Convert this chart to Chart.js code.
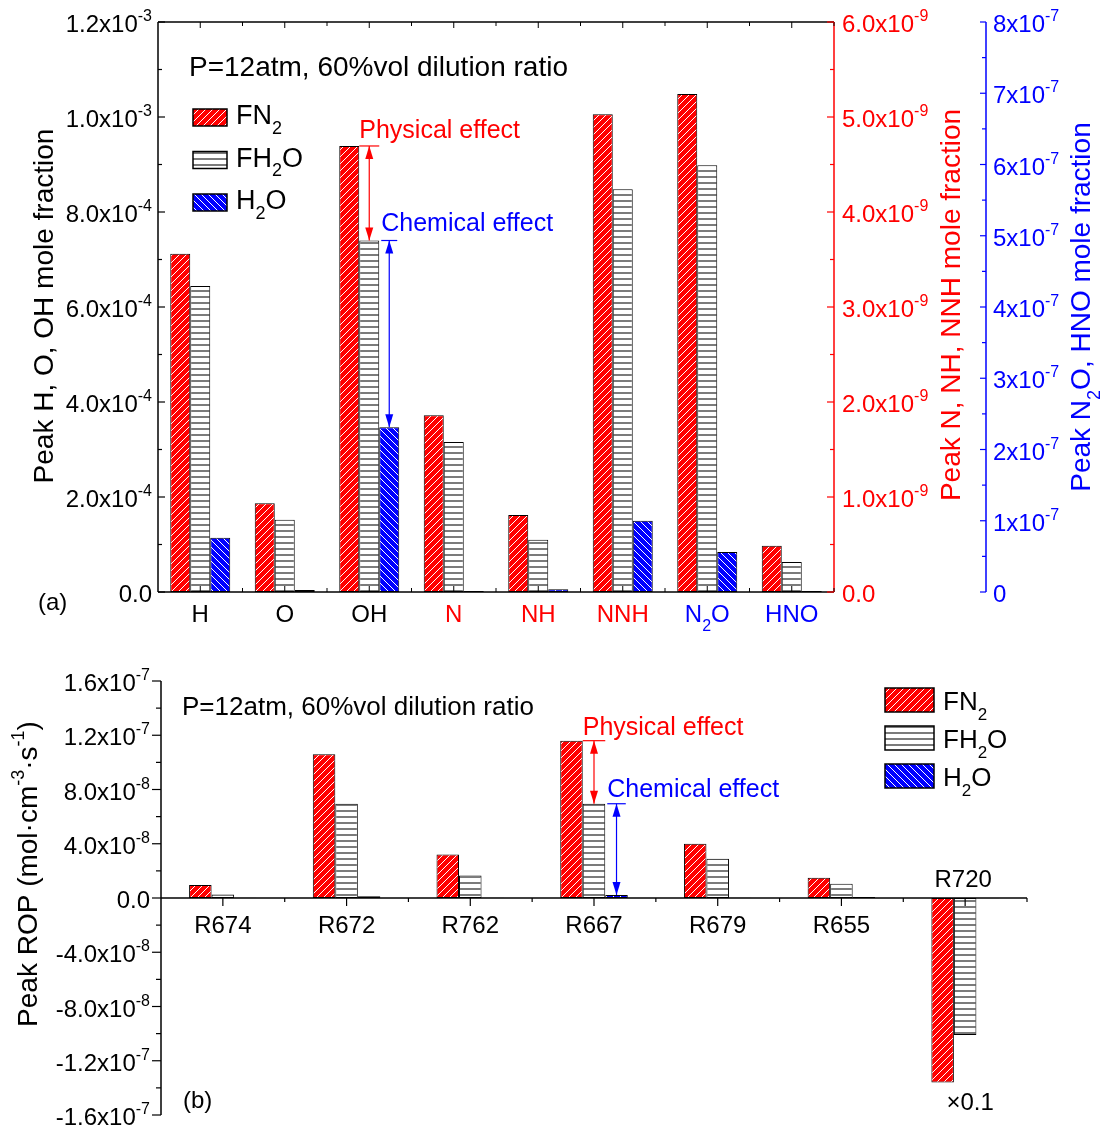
<!DOCTYPE html>
<html>
<head>
<meta charset="utf-8">
<script src="https://cdn.jsdelivr.net/npm/chart.js@4.4.0/dist/chart.umd.min.js"></script>
<style>
  body { margin: 0; background: #fff; }
  canvas { position: absolute; left: 0; }
  #topChart { top: 0; }
  #bottomChart { top: 640px; }
</style>
</head>
<body>
<canvas id="topChart" width="1104" height="640"></canvas>
<canvas id="bottomChart" width="1104" height="493"></canvas>
<script>
const FONT = '"Liberation Sans", Arial, sans-serif';
const RED = '#ff0000';
const BLUE = '#0000ff';

// panel (a): peak mole fractions
const species = ['H', 'O', 'OH', 'N', 'NH', 'NNH', 'N_{2}O', 'HNO'];
const speciesAxis = ['left', 'left', 'left', 'red', 'red', 'red', 'blue', 'blue'];
const seriesNames = ['FN_{2}', 'FH_{2}O', 'H_{2}O'];
const fn2A  = [7.12e-4, 1.87e-4, 9.39e-4, 1.86e-9, 0.81e-9, 5.03e-9, 6.99e-7, 0.65e-7];
const fh2oA = [6.44e-4, 1.52e-4, 7.40e-4, 1.58e-9, 0.55e-9, 4.24e-9, 5.99e-7, 0.42e-7];
const h2oA  = [1.14e-4, 0.04e-4, 3.47e-4, 0.01e-9, 0.03e-9, 0.75e-9, 0.56e-7, 0.015e-7];

const leftTicks = [0, 2e-4, 4e-4, 6e-4, 8e-4, 1.0e-3, 1.2e-3];
const leftTickLabels = ['0.0', '2.0x10^{-4}', '4.0x10^{-4}', '6.0x10^{-4}', '8.0x10^{-4}', '1.0x10^{-3}', '1.2x10^{-3}'];
const redTicks = [0, 1e-9, 2e-9, 3e-9, 4e-9, 5e-9, 6e-9];
const redTickLabels = ['0.0', '1.0x10^{-9}', '2.0x10^{-9}', '3.0x10^{-9}', '4.0x10^{-9}', '5.0x10^{-9}', '6.0x10^{-9}'];
const blueTicks = [0, 1e-7, 2e-7, 3e-7, 4e-7, 5e-7, 6e-7, 7e-7, 8e-7];
const blueTickLabels = ['0', '1x10^{-7}', '2x10^{-7}', '3x10^{-7}', '4x10^{-7}', '5x10^{-7}', '6x10^{-7}', '7x10^{-7}', '8x10^{-7}'];

// panel (b): peak ROP (R720 plotted x0.1)
const reactions = ['R674', 'R672', 'R762', 'R667', 'R679', 'R655', 'R720'];
const fn2B  = [0.95e-8, 10.6e-8, 3.2e-8, 11.6e-8, 4.0e-8, 1.5e-8, -13.6e-8];
const fh2oB = [0.25e-8, 6.95e-8, 1.65e-8, 6.95e-8, 2.9e-8, 1.05e-8, -10.1e-8];
const h2oB  = [0.02e-8, 0.12e-8, 0.02e-8, 0.22e-8, 0.02e-8, 0.08e-8, -0.02e-8];
const ropTicks = [1.6e-7, 1.2e-7, 8e-8, 4e-8, 0, -4e-8, -8e-8, -1.2e-7, -1.6e-7];
const ropTickLabels = ['1.6x10^{-7}', '1.2x10^{-7}', '8.0x10^{-8}', '4.0x10^{-8}', '0.0', '-4.0x10^{-8}', '-8.0x10^{-8}', '-1.2x10^{-7}', '-1.6x10^{-7}'];

// hatch patterns
function hatch(bg, fg, kind) {
  const c = document.createElement('canvas');
  const n = kind === '-' ? 6 : 7;
  c.width = n; c.height = n;
  const g = c.getContext('2d');
  g.fillStyle = bg;
  g.fillRect(0, 0, n, n);
  g.strokeStyle = fg;
  g.lineWidth = kind === '-' ? 1.3 : 1;
  g.beginPath();
  if (kind === '/') {
    g.moveTo(-1, n + 1); g.lineTo(n + 1, -1);
    g.moveTo(-1, 1); g.lineTo(1, -1);
    g.moveTo(n - 1, n + 1); g.lineTo(n + 1, n - 1);
  } else if (kind === '\\') {
    g.moveTo(-1, -1); g.lineTo(n + 1, n + 1);
    g.moveTo(n - 1, -1); g.lineTo(n + 1, 1);
    g.moveTo(-1, n - 1); g.lineTo(1, n + 1);
  } else {
    g.moveTo(0, 3); g.lineTo(n, 3);
  }
  g.stroke();
  return g.createPattern(c, 'repeat');
}
const patCtx = document.getElementById('topChart').getContext('2d');
const patterns = [hatch(RED, '#ffffff', '/'), hatch('#ffffff', '#333333', '-'), hatch(BLUE, '#ffffff', '\\')];

// text with _{sub} and ^{sup}
function parts(str) {
  const out = [];
  const re = /([_^])\{([^}]*)\}/g;
  let last = 0, m;
  while ((m = re.exec(str))) {
    if (m.index > last) out.push({ t: str.slice(last, m.index), k: 'n' });
    out.push({ t: m[2], k: m[1] === '^' ? 'sup' : 'sub' });
    last = re.lastIndex;
  }
  if (last < str.length) out.push({ t: str.slice(last), k: 'n' });
  return out;
}
function drawRich(ctx, str, x, y, size, color, align) {
  const ps = parts(str);
  const small = Math.round(size * 0.65);
  ctx.save();
  ctx.fillStyle = color;
  ctx.textBaseline = 'alphabetic';
  ctx.textAlign = 'left';
  let w = 0;
  ps.forEach(p => {
    ctx.font = (p.k === 'n' ? size : small) + 'px ' + FONT;
    p.w = ctx.measureText(p.t).width;
    w += p.w;
  });
  let cx = align === 'right' ? x - w : align === 'center' ? x - w / 2 : x;
  ps.forEach(p => {
    ctx.font = (p.k === 'n' ? size : small) + 'px ' + FONT;
    const dy = p.k === 'sup' ? -size * 0.45 : p.k === 'sub' ? size * 0.37 : 0;
    ctx.fillText(p.t, cx, y + dy);
    cx += p.w;
  });
  ctx.restore();
}
function drawRotated(ctx, str, x, y, size, color) {
  ctx.save();
  ctx.translate(x, y);
  ctx.rotate(-Math.PI / 2);
  drawRich(ctx, str, 0, 0, size, color, 'center');
  ctx.restore();
}
function line(ctx, x1, y1, x2, y2, color, w) {
  ctx.save();
  ctx.strokeStyle = color;
  ctx.lineWidth = w || 1.5;
  ctx.beginPath();
  ctx.moveTo(x1, y1);
  ctx.lineTo(x2, y2);
  ctx.stroke();
  ctx.restore();
}
function arrowHead(ctx, x, y, dir, color) {
  ctx.save();
  ctx.fillStyle = color;
  ctx.beginPath();
  ctx.moveTo(x, y);
  ctx.lineTo(x - 4, y + dir * 13);
  ctx.lineTo(x + 4, y + dir * 13);
  ctx.closePath();
  ctx.fill();
  ctx.restore();
}
function doubleArrow(ctx, x, y1, y2, color) {
  line(ctx, x, y1, x, y2, color, 1.2);
  arrowHead(ctx, x, y1, 1, color);
  arrowHead(ctx, x, y2, -1, color);
}
function legend(ctx, x, y0, step, bw, bh, tx, size) {
  seriesNames.forEach((name, k) => {
    const y = y0 + k * step;
    ctx.fillStyle = patterns[k];
    ctx.fillRect(x, y, bw, bh);
    ctx.strokeStyle = '#000';
    ctx.lineWidth = 1.5;
    ctx.strokeRect(x, y, bw, bh);
    drawRich(ctx, name, tx, y + bh - 2, size, '#000', 'left');
  });
}
function effects(ctx, chart, ids, idx, physY, chemY) {
  const r = chart.getDatasetMeta(ids[0]).data[idx];
  const g = chart.getDatasetMeta(ids[1]).data[idx];
  const b = chart.getDatasetMeta(ids[2]).data[idx];
  const rRight = r.x + r.width / 2;
  const gRight = g.x + g.width / 2;
  const bLeft = b.x - b.width / 2;
  const bRight = b.x + b.width / 2;
  line(ctx, rRight, r.y, gRight, r.y, RED, 1.2);
  doubleArrow(ctx, g.x, r.y, g.y, RED);
  drawRich(ctx, 'Physical effect', rRight, r.y + physY, 25, RED, 'left');
  line(ctx, bLeft + 2, g.y, bRight - 2, g.y, BLUE, 1.2);
  doubleArrow(ctx, b.x, g.y, b.y, BLUE);
  drawRich(ctx, 'Chemical effect', bLeft + 2, g.y + chemY, 25, BLUE, 'left');
}
function minors(ticks) {
  const out = [];
  for (let i = 1; i < ticks.length; i++) out.push((ticks[i] + ticks[i - 1]) / 2);
  return out;
}

// ----- panel (a)
const axisIds = { left: 'y', red: 'yRed', blue: 'yBlue' };
const datasetsA = [];
['left', 'red', 'blue'].forEach(ax => {
  [fn2A, fh2oA, h2oA].forEach((vals, k) => {
    datasetsA.push({
      label: seriesNames[k],
      data: vals.map((v, i) => speciesAxis[i] === ax ? v : null),
      yAxisID: axisIds[ax],
      backgroundColor: patterns[k],
      borderColor: '#000',
      borderWidth: 1,
      borderSkipped: false,
      skipNull: true,
      categoryPercentage: 0.71,
      barPercentage: 1
    });
  });
});

const hidden = { grid: { display: false }, border: { display: false }, ticks: { display: false } };

const topPlugin = {
  id: 'topDecor',
  afterDraw(chart) {
    const ctx = chart.ctx;
    const a = chart.chartArea;
    const sx = chart.scales.x, sy = chart.scales.y, sr = chart.scales.yRed, sb = chart.scales.yBlue;
    const blueX = sb.left;
    // frame
    line(ctx, a.left, a.top, a.right, a.top, '#000');
    line(ctx, a.left, a.top, a.left, a.bottom, '#000');
    line(ctx, a.left, a.bottom, a.right, a.bottom, '#000');
    line(ctx, a.right, a.top, a.right, a.bottom, RED);
    line(ctx, blueX, a.top, blueX, a.bottom, BLUE);
    // x ticks + labels
    const cw = (a.right - a.left) / species.length;
    species.forEach((s, i) => {
      const cx = sx.getPixelForValue(i);
      line(ctx, cx, a.bottom, cx, a.bottom - 6, '#000', 1);
      line(ctx, cx, a.top, cx, a.top + 6, '#000', 1);
      const bx = a.left + (i + 1) * cw;
      line(ctx, bx, a.bottom, bx, a.bottom - 4, '#000', 1);
      line(ctx, bx, a.top, bx, a.top + 4, '#000', 1);
      const col = speciesAxis[i] === 'left' ? '#000' : speciesAxis[i] === 'red' ? RED : BLUE;
      drawRich(ctx, s, cx, 622, 24, col, 'center');
    });
    // y ticks
    leftTicks.forEach((v, i) => {
      const y = sy.getPixelForValue(v);
      line(ctx, a.left, y, a.left + 7, y, '#000', 1.2);
      drawRich(ctx, leftTickLabels[i], a.left - 6, y + 10, 24, '#000', 'right');
    });
    minors(leftTicks).forEach(v => {
      const y = sy.getPixelForValue(v);
      line(ctx, a.left, y, a.left + 4, y, '#000', 1.2);
    });
    redTicks.forEach((v, i) => {
      const y = sr.getPixelForValue(v);
      line(ctx, a.right, y, a.right - 7, y, RED, 1.2);
      drawRich(ctx, redTickLabels[i], a.right + 8, y + 10, 24, RED, 'left');
    });
    minors(redTicks).forEach(v => {
      const y = sr.getPixelForValue(v);
      line(ctx, a.right, y, a.right - 4, y, RED, 1.2);
    });
    blueTicks.forEach((v, i) => {
      const y = sb.getPixelForValue(v);
      line(ctx, blueX, y, blueX - 6, y, BLUE, 1.2);
      drawRich(ctx, blueTickLabels[i], blueX + 7, y + 10, 24, BLUE, 'left');
    });
    minors(blueTicks).forEach(v => {
      const y = sb.getPixelForValue(v);
      line(ctx, blueX, y, blueX - 4, y, BLUE, 1.2);
    });
    // titles
    drawRotated(ctx, 'Peak H, O, OH mole fraction', 53, 306, 28, '#000');
    drawRotated(ctx, 'Peak N, NH, NNH mole fraction', 960, 305, 28, RED);
    drawRotated(ctx, 'Peak N_{2}O, HNO mole fraction', 1090, 307, 28, BLUE);
    drawRich(ctx, 'P=12atm, 60%vol dilution ratio', 189, 76, 28, '#000', 'left');
    drawRich(ctx, '(a)', 38, 610, 24, '#000', 'left');
    legend(ctx, 193, 109, 42.5, 34, 17, 236, 27);
    // OH annotation
    effects(ctx, chart, [0, 1, 2], species.indexOf('OH'), -8, -10);
  }
};

const topCtx = document.getElementById('topChart').getContext('2d');
const topChart = new Chart(topCtx, {
  type: 'bar',
  data: { labels: species, datasets: datasetsA },
  options: {
    responsive: false,
    animation: false,
    devicePixelRatio: 1,
    layout: { padding: { top: 22, left: 0, right: 0, bottom: 0 } },
    plugins: { legend: { display: false }, tooltip: { enabled: false } },
    scales: {
      x: Object.assign({ type: 'category', afterFit: s => { s.height = 48; } }, hidden),
      y: Object.assign({ position: 'left', min: 0, max: 1.2e-3, afterFit: s => { s.width = 158; } }, hidden),
      yRed: Object.assign({ position: 'right', weight: 0, min: 0, max: 6e-9, afterFit: s => { s.width = 152; } }, hidden),
      yBlue: Object.assign({ position: 'right', weight: 1, min: 0, max: 8e-7, afterFit: s => { s.width = 118; } }, hidden)
    }
  },
  plugins: [topPlugin]
});

// ----- panel (b)
const datasetsB = [fn2B, fh2oB, h2oB].map((vals, k) => ({
  label: seriesNames[k],
  data: vals,
  backgroundColor: patterns[k],
  borderColor: '#000',
  borderWidth: 1,
  borderSkipped: false,
  categoryPercentage: 0.546,
  barPercentage: 1
}));

const bottomPlugin = {
  id: 'bottomDecor',
  afterDraw(chart) {
    const ctx = chart.ctx;
    const a = chart.chartArea;
    const sx = chart.scales.x, sy = chart.scales.y;
    const y0 = sy.getPixelForValue(0);
    line(ctx, a.left, a.top, a.left, a.bottom, '#000');
    line(ctx, a.left, y0, a.right, y0, '#000');
    ropTicks.forEach((v, i) => {
      const y = sy.getPixelForValue(v);
      line(ctx, a.left, y, a.left - 9, y, '#000', 1.2);
      drawRich(ctx, ropTickLabels[i], a.left - 11, y + 10, 24, '#000', 'right');
    });
    minors(ropTicks).forEach(v => {
      const y = sy.getPixelForValue(v);
      line(ctx, a.left, y, a.left - 5, y, '#000', 1.2);
    });
    const cw = (a.right - a.left) / reactions.length;
    reactions.forEach((r, i) => {
      const cx = sx.getPixelForValue(i);
      line(ctx, cx, y0, cx, y0 + 8, '#000', 1.2);
      const bx = a.left + (i + 1) * cw;
      line(ctx, bx, y0, bx, y0 + 4, '#000', 1.2);
      if (fn2B[i] < 0) {
        drawRich(ctx, r, cx - 2, y0 - 11, 24, '#000', 'center');
        drawRich(ctx, '\u00d70.1', cx + 5, 470, 24, '#000', 'center');
      } else {
        drawRich(ctx, r, cx, y0 + 35, 24, '#000', 'center');
      }
    });
    drawRotated(ctx, 'Peak ROP (mol\u00b7cm^{-3}\u00b7s^{-1})', 37, 234, 28, '#000');
    drawRich(ctx, 'P=12atm, 60%vol dilution ratio', 182, 75, 26, '#000', 'left');
    drawRich(ctx, '(b)', 183, 468, 24, '#000', 'left');
    legend(ctx, 885, 48, 38, 49, 24, 943, 26);
    effects(ctx, chart, [0, 1, 2], reactions.indexOf('R667'), -6, -7);
  }
};

const bottomCtx = document.getElementById('bottomChart').getContext('2d');
const bottomChart = new Chart(bottomCtx, {
  type: 'bar',
  data: { labels: reactions, datasets: datasetsB },
  options: {
    responsive: false,
    animation: false,
    devicePixelRatio: 1,
    layout: { padding: { top: 41, left: 0, right: 77, bottom: 18 } },
    plugins: { legend: { display: false }, tooltip: { enabled: false } },
    scales: {
      x: Object.assign({ type: 'category', afterFit: s => { s.height = 0; } }, hidden),
      y: Object.assign({ position: 'left', min: -1.6e-7, max: 1.6e-7, afterFit: s => { s.width = 161; } }, hidden)
    }
  },
  plugins: [bottomPlugin]
});
</script>
</body>
</html>
